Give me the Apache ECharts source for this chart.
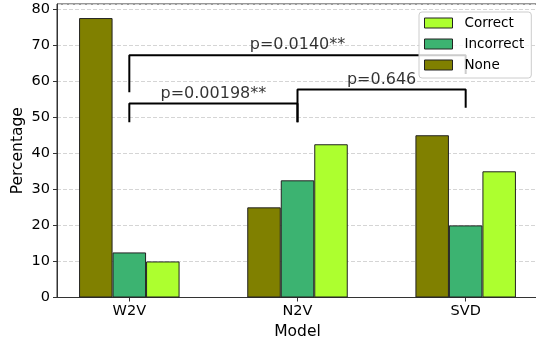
<!DOCTYPE html>
<html>
<head>
<meta charset="utf-8">
<script src="https://cdn.jsdelivr.net/npm/echarts@6/dist/echarts.min.js"></script>
<style>html,body{margin:0;padding:0;background:#fff}#c{width:536px;height:345px}</style>
</head>
<body>
<div id="c"></div>
<script>
const categories = ['W2V', 'N2V', 'SVD'];
const noneVals = [77.5, 25.0, 45.0];
const incorrectVals = [12.5, 32.5, 20.0];
const correctVals = [10.0, 42.5, 35.0];
const legendOrder = ['Correct', 'Incorrect', 'None'];

// significance brackets: [fromCategoryIndex, toCategoryIndex]
const bracketPairs = [[0, 1], [1, 2], [0, 2]];
const bracketHeights = [53.8, 57.7, 67.2];
const bracketLeftLegs = [48.6, 48.6, 56.9];
const bracketRightLegs = [48.6, 52.6, 62.0];
const bracketTexts = ['p=0.00198**', 'p=0.646', 'p=0.0140**'];

const FONT = 'DejaVu Sans';
const edge = { borderColor: '#222', borderWidth: 1 };

function barSeries(name, vals, color) {
  return {
    name: name, type: 'bar', barWidth: 33.5, barGap: '0%',
    data: vals.map((v, i) => [i, v]),
    itemStyle: Object.assign({ color: color }, edge),
    emphasis: { disabled: true }, z: 2
  };
}

const series = [
  barSeries('None', noneVals, '#808000'),
  barSeries('Incorrect', incorrectVals, '#3cb371'),
  barSeries('Correct', correctVals, '#adff2f')
];

bracketPairs.forEach((p, k) => {
  series.push({
    type: 'line', silent: true, symbol: 'none', z: 3,
    lineStyle: { color: '#000', width: 2 },
    data: [[p[0], bracketLeftLegs[k]], [p[0], bracketHeights[k]], [p[1], bracketHeights[k]], [p[1], bracketRightLegs[k]]]
  });
  series.push({
    type: 'scatter', silent: true, symbolSize: 0, z: 3,
    data: [[(p[0] + p[1]) / 2, bracketHeights[k]]],
    label: { show: true, position: 'top', distance: 2, formatter: bracketTexts[k], color: '#000', fontFamily: FONT, fontSize: 16 }
  });
});

const chart = echarts.init(document.getElementById('c'), null, { renderer: 'canvas' });
chart.setOption({
  animation: false,
  backgroundColor: '#fff',
  grid: { left: 57, top: 4, width: 481, height: 293.5, outerBoundsMode: 'none', containLabel: false, show: true, borderColor: '#333', borderWidth: 1, backgroundColor: 'transparent' },
  legend: {
    data: legendOrder, orient: 'vertical', left: 419, top: 12,
    icon: 'rect', itemWidth: 28, itemHeight: 10, itemGap: 5,
    itemStyle: edge,
    padding: [3, 7, 5, 5],
    backgroundColor: 'rgba(255,255,255,0.8)', borderColor: '#ccc', borderWidth: 1, borderRadius: 3,
    textStyle: { fontFamily: FONT, fontSize: 13.5, color: '#000', lineHeight: 16, padding: [0, 0, 0, 7] }
  },
  xAxis: {
    type: 'value', min: -0.43, max: 2.43,
    name: 'Model', nameLocation: 'middle', nameGap: 26, nameMoveOverlap: false,
    nameTextStyle: { fontFamily: FONT, fontSize: 15.5, color: '#000' },
    axisLine: { show: true, onZero: false, lineStyle: { color: '#333' } },
    axisTick: { show: true, length: 4, customValues: [0, 1, 2], lineStyle: { color: '#333' } },
    axisLabel: { customValues: [0, 1, 2], margin: 6, formatter: v => categories[Math.round(v)], fontFamily: FONT, fontSize: 14.5, color: '#000' },
    splitLine: { show: false }
  },
  yAxis: {
    type: 'value', min: 0, max: 81.4, interval: 10,
    name: 'Percentage', nameLocation: 'middle', nameGap: 31, nameMoveOverlap: false,
    nameTextStyle: { fontFamily: FONT, fontSize: 15.5, color: '#000' },
    axisLine: { show: true, onZero: false, lineStyle: { color: '#333' } },
    axisTick: { show: true, length: 4, lineStyle: { color: '#333' } },
    axisLabel: { margin: 7, fontFamily: FONT, fontSize: 14.5, color: '#000', showMaxLabel: false },
    splitLine: { show: true, lineStyle: { color: '#d5d5d5', type: [4, 2], width: 1 } }
  },
  series: series
});
</script>
</body>
</html>
